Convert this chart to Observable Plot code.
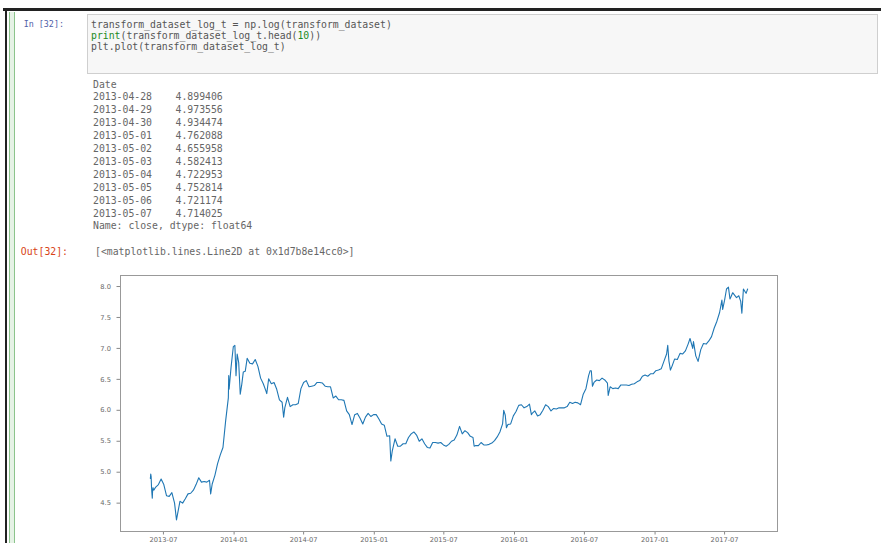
<!DOCTYPE html>
<html><head><meta charset="utf-8">
<script src="https://cdn.jsdelivr.net/npm/d3@7"></script>
<script src="https://cdn.jsdelivr.net/npm/@observablehq/plot@0.6"></script>
<style>
html,body{margin:0;padding:0;background:#fff;}
body{width:881px;height:543px;overflow:hidden;position:relative;font-family:"DejaVu Sans Mono",monospace;}
.abs{position:absolute;}
#topbar{left:3px;top:8px;width:878px;height:3px;background:#222;}
#leftbar{left:5px;top:8px;width:2px;height:535px;background:#222;}
#sel{left:9px;top:12px;width:4px;height:531px;background:#e6f2e6;border-left:1px solid #8cc48c;border-right:1px solid #8cc48c;}
#inbox{left:87px;top:14px;width:789px;height:58px;background:#f7f7f7;border:1px solid #cfcfcf;}
.prompt{line-height:11px;text-align:right;left:0;white-space:pre;}
#inprompt{top:19px;width:64px;font-size:8.4px;color:#5060a8;}
#outprompt{top:246px;width:68px;font-size:9.8px;color:#d84315;}
.cl{left:91px;font-size:9.8px;line-height:11px;height:11px;color:#555;white-space:pre;}
.g{color:#1d8a1d;}
#out{left:93px;top:78.5px;font-size:9.8px;line-height:12.9px;color:#666;white-space:pre;margin:0;}
#ret{left:95px;top:246px;font-size:9.8px;line-height:12px;color:#666;white-space:pre;}
#chart{left:0;top:265px;}
</style></head><body>
<div class="abs" id="topbar"></div>
<div class="abs" id="leftbar"></div>
<div class="abs" id="sel"></div>
<div class="abs" id="inbox"></div>
<div class="abs prompt" id="inprompt">In [32]:</div>
<div class="abs cl" style="top:19px">transform_dataset_log_t = np.log(transform_dataset)</div>
<div class="abs cl" style="top:30px"><span class="g">print</span>(transform_dataset_log_t.head(<span class="g">10</span>))</div>
<div class="abs cl" style="top:41px">plt.plot(transform_dataset_log_t)</div>
<pre class="abs" id="out"></pre>
<div class="abs prompt" id="outprompt">Out[32]:</div>
<div class="abs" id="ret">[&lt;matplotlib.lines.Line2D at 0x1d7b8e14cc0&gt;]</div>
<div class="abs" id="chart"></div>
<script>
// printed head of the series
const headDates = ["2013-04-28","2013-04-29","2013-04-30","2013-05-01","2013-05-02","2013-05-03","2013-05-04","2013-05-05","2013-05-06","2013-05-07"];
const headValues = [4.899406,4.973556,4.934474,4.762088,4.655958,4.582413,4.722953,4.752814,4.721174,4.714025];

// plotted series: log close, dates as placed on the picture's time axis
const dates2013 = ["2013-05-28","2013-05-29","2013-05-30","2013-05-31","2013-06-01","2013-06-02","2013-06-03","2013-06-04","2013-06-05","2013-06-06",
  "2013-06-11","2013-06-18","2013-06-25",
  "2013-07-02","2013-07-09","2013-07-16","2013-07-23","2013-07-30",
  "2013-08-04","2013-08-07","2013-08-13","2013-08-20","2013-08-27",
  "2013-09-03","2013-09-10","2013-09-17","2013-09-24",
  "2013-10-01","2013-10-08","2013-10-15","2013-10-22","2013-10-29",
  "2013-11-01","2013-11-05","2013-11-12","2013-11-19","2013-11-26",
  "2013-12-03","2013-12-10","2013-12-17","2013-12-18","2013-12-19","2013-12-24","2013-12-30",
  "2014-01-03","2014-01-06","2014-01-09","2014-01-13","2014-01-17","2014-01-21","2014-01-25","2014-01-30"];
const vals2013 = [4.90,4.97,4.93,4.76,4.66,4.58,4.72,4.75,4.72,4.71,
  4.76,4.80,4.89,
  4.80,4.62,4.61,4.67,4.50,
  4.23,4.33,4.53,4.50,4.57,
  4.65,4.66,4.71,4.80,
  4.91,4.84,4.85,4.84,4.87,
  4.65,4.81,4.95,5.14,5.28,
  5.40,5.83,6.20,6.56,6.34,6.69,7.03,
  7.05,6.56,6.91,6.77,6.26,6.42,6.62,6.63];

const dates2014 = ["2014-02-04","2014-02-11","2014-02-18","2014-02-25",
  "2014-03-04","2014-03-11","2014-03-18","2014-03-25","2014-03-27",
  "2014-04-01","2014-04-08","2014-04-15","2014-04-22","2014-04-29",
  "2014-05-06","2014-05-10","2014-05-13","2014-05-20","2014-05-27",
  "2014-06-03","2014-06-10","2014-06-17","2014-06-24",
  "2014-07-01","2014-07-08","2014-07-15","2014-07-22","2014-07-29",
  "2014-08-05","2014-08-12","2014-08-19","2014-08-26",
  "2014-09-02","2014-09-09","2014-09-16","2014-09-23","2014-09-30",
  "2014-10-07","2014-10-14","2014-10-21","2014-10-28",
  "2014-11-04","2014-11-11","2014-11-18","2014-11-25",
  "2014-12-02","2014-12-09","2014-12-16","2014-12-23","2014-12-30",
  "2015-01-06","2015-01-13","2015-01-20","2015-01-27"];
const vals2014 = [6.84,6.76,6.75,6.82,
  6.71,6.52,6.43,6.31,6.27,
  6.51,6.43,6.45,6.34,6.17,
  6.13,5.89,6.04,6.21,6.06,
  6.09,6.09,6.11,6.35,
  6.45,6.48,6.38,6.39,6.40,
  6.45,6.45,6.44,6.39,
  6.38,6.38,6.20,6.23,6.17,
  6.17,6.16,5.99,5.93,
  5.77,5.93,5.95,5.87,
  5.78,5.89,5.95,5.90,5.93,
  5.93,5.86,5.78,5.76];

const dates2015 = ["2015-02-03","2015-02-10","2015-02-13","2015-02-17","2015-02-24",
  "2015-03-03","2015-03-10","2015-03-17","2015-03-24",
  "2015-03-31","2015-04-07","2015-04-14","2015-04-21","2015-04-28",
  "2015-05-05","2015-05-12","2015-05-19","2015-05-26",
  "2015-06-02","2015-06-09","2015-06-16","2015-06-23","2015-06-30",
  "2015-07-07","2015-07-14","2015-07-21","2015-07-28",
  "2015-08-04","2015-08-11","2015-08-18","2015-08-25",
  "2015-09-01","2015-09-08","2015-09-15","2015-09-18","2015-09-22","2015-09-29",
  "2015-10-06","2015-10-13","2015-10-20","2015-10-27",
  "2015-11-03","2015-11-10","2015-11-17","2015-11-24",
  "2015-12-01","2015-12-04","2015-12-08","2015-12-11","2015-12-15","2015-12-22","2015-12-29",
  "2016-01-05","2016-01-12","2016-01-19","2016-01-26"];
const vals2015 = [5.58,5.59,5.18,5.35,5.54,
  5.42,5.42,5.46,5.46,
  5.56,5.62,5.65,5.60,5.50,
  5.54,5.46,5.40,5.39,
  5.48,5.48,5.47,5.48,5.44,
  5.42,5.45,5.50,5.52,
  5.60,5.74,5.62,5.67,
  5.64,5.58,5.56,5.42,5.43,5.43,
  5.48,5.44,5.44,5.45,
  5.47,5.51,5.57,5.65,
  5.78,6.00,5.92,5.72,5.77,5.78,5.91,
  5.98,6.08,6.09,6.04];

const dates2016 = ["2016-02-02","2016-02-09","2016-02-14","2016-02-16","2016-02-23","2016-03-01",
  "2016-03-08","2016-03-15","2016-03-22","2016-03-29",
  "2016-04-05","2016-04-12","2016-04-19","2016-04-26",
  "2016-05-03","2016-05-10","2016-05-17","2016-05-24",
  "2016-05-31","2016-06-07","2016-06-14","2016-06-21","2016-06-28",
  "2016-07-05","2016-07-12","2016-07-16","2016-07-19","2016-07-22","2016-07-26",
  "2016-08-02","2016-08-09","2016-08-16","2016-08-23","2016-08-30",
  "2016-09-01","2016-09-06","2016-09-13","2016-09-20","2016-09-27",
  "2016-10-04","2016-10-11","2016-10-18","2016-10-25",
  "2016-11-01","2016-11-08","2016-11-15","2016-11-22","2016-11-29",
  "2016-12-06","2016-12-13","2016-12-20","2016-12-27",
  "2017-01-03","2017-01-10","2017-01-17","2017-01-24"];
const vals2016 = [6.06,6.10,5.93,5.95,5.99,5.91,
  5.93,6.00,6.09,6.06,
  5.99,6.03,6.02,6.04,
  6.04,6.04,6.06,6.13,
  6.11,6.13,6.12,6.09,6.26,
  6.35,6.56,6.64,6.64,6.39,6.45,
  6.49,6.48,6.52,6.49,6.44,
  6.24,6.38,6.35,6.36,6.35,
  6.41,6.41,6.41,6.40,
  6.42,6.43,6.46,6.48,6.55,
  6.57,6.55,6.59,6.59,
  6.64,6.65,6.67,6.79];

const dates2017 = ["2017-01-31","2017-02-03","2017-02-06","2017-02-10","2017-02-14","2017-02-21","2017-02-28",
  "2017-03-07","2017-03-14","2017-03-21","2017-03-28",
  "2017-04-02","2017-04-09","2017-04-11","2017-04-17","2017-04-23","2017-04-30",
  "2017-05-07","2017-05-14","2017-05-21","2017-05-28",
  "2017-06-04","2017-06-11","2017-06-18","2017-06-24","2017-06-26",
  "2017-07-01","2017-07-06","2017-07-11","2017-07-15","2017-07-18","2017-07-22","2017-07-27",
  "2017-08-01","2017-08-07","2017-08-12","2017-08-15","2017-08-19","2017-08-23","2017-08-26","2017-08-30"];
const vals2017 = [6.91,7.05,6.80,6.65,6.71,6.83,6.82,
  6.92,6.91,6.96,7.07,
  7.16,7.00,7.11,6.88,6.79,6.98,
  7.08,7.07,7.12,7.19,
  7.33,7.44,7.58,7.78,7.63,
  7.78,7.96,7.99,7.80,7.84,7.90,7.86,
  7.82,7.85,7.76,7.57,7.96,7.92,7.89,7.96];

const xTickLabels = ["2013-07","2014-01","2014-07","2015-01","2015-07","2016-01","2016-07","2017-01","2017-07"];
const yTicks = [4.5,5.0,5.5,6.0,6.5,7.0,7.5,8.0];

// ---- printed output ----
const pad = (s, n) => s + " ".repeat(Math.max(0, n - s.length));
let txt = "Date\n";
headDates.forEach((d, i) => { txt += pad(d, 14) + headValues[i].toFixed(6) + "\n"; });
txt += "Name: close, dtype: float64";
document.getElementById("out").textContent = txt;

// ---- chart ----
const allDates = [].concat(dates2013, dates2014, dates2015, dates2016, dates2017);
const allVals = [].concat(vals2013, vals2014, vals2015, vals2016, vals2017);
const parse = d3.utcParse("%Y-%m-%d");
const series = allDates.map((d, i) => ({date: parse(d), value: allVals[i]}));
const [x0, x1] = d3.extent(series, d => d.date);
const px = (x1 - x0) * 0.05;
const [y0, y1] = d3.extent(series, d => d.value);
const py = (y1 - y0) * 0.05;
const xTicks = xTickLabels.map(d3.utcParse("%Y-%m"));

const chart = Plot.plot({
  width: 800, height: 280,
  marginLeft: 120, marginRight: 23, marginTop: 10, marginBottom: 14,
  style: {fontFamily: "'DejaVu Sans', sans-serif", fontSize: "6.7px", color: "#666", background: "transparent"},
  x: {type: "utc", domain: [new Date(+x0 - px), new Date(+x1 + px)]},
  y: {domain: [y0 - py, y1 + py]},
  marks: [
    Plot.axisX({ticks: xTicks, tickFormat: d3.utcFormat("%Y-%m"), tickSize: 3.5, tickPadding: 2, label: null, stroke: "#888"}),
    Plot.axisY({ticks: yTicks, tickFormat: d3.format(".1f"), tickSize: 3.5, tickPadding: 6, label: null, stroke: "#888"}),
    Plot.line(series, {x: "date", y: "value", stroke: "#1f77b4", strokeWidth: 1.1}),
    Plot.frame({stroke: "#999", strokeWidth: 1})
  ]
});
document.getElementById("chart").appendChild(chart);
</script>
</body></html>
